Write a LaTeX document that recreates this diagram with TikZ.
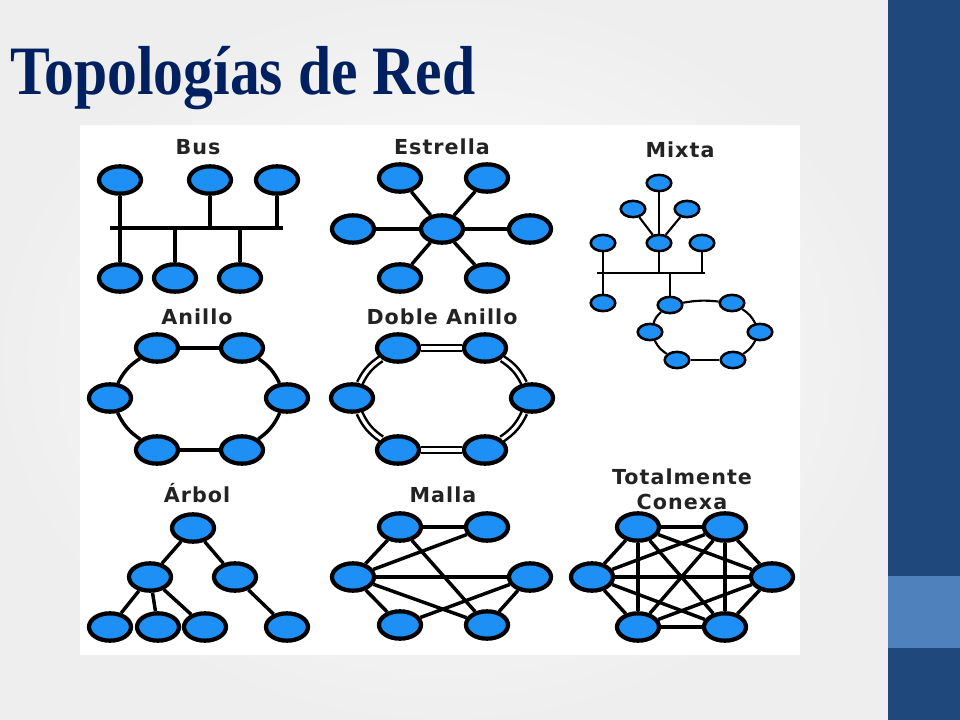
\documentclass[tikz,border=0pt]{standalone}
\usepackage{fontspec}
\usepackage{tikz}
\usetikzlibrary{shapes.geometric}
\newfontfamily\titlefont{Liberation Serif}
\newfontfamily\lblfont[LetterSpace=5]{DejaVu Sans}
\definecolor{nodeblue}{RGB}{30,144,245}
\definecolor{titleblue}{RGB}{0,32,96}
\definecolor{labelgray}{RGB}{35,35,35}
\definecolor{bardark}{RGB}{31,73,125}
\definecolor{barlight}{RGB}{79,129,189}

\begin{document}
\begin{tikzpicture}[x=0.75pt,y=-0.75pt,
        host/.style={ellipse,draw=black,line width=3.2pt,fill=nodeblue,inner sep=0pt,minimum width=31.5pt,minimum height=20.5pt},
        hostsm/.style={host,line width=1.9pt,minimum width=18.4pt,minimum height=12.2pt},
        link/.style={line width=2.6pt},
        linksm/.style={line width=1.6pt},
        twolink/.style={line width=1.9pt,double=white,double distance=2.4pt},
        lbl/.style={font=\lblfont\bfseries\fontsize{15.5}{18}\selectfont,text=labelgray,inner sep=0pt}]
        \useasboundingbox (0,0) rectangle (960,720);
        \shade [inner color=white,outer color=gray!13] (0,0) rectangle (888,720);
        \fill [white] (80,125) rectangle (800,655);
        \fill [bardark] (888,0) rectangle (960,720);
        \fill [barlight] (888,576) rectangle (960,648);

        \node [anchor=base west,inner sep=0pt,text=titleblue,font=\titlefont\bfseries\fontsize{52}{52}\selectfont] (title) at (10,95) {\scalebox{0.86}[1]{Topologías de Red}};

        % bus
        \node [lbl] (lbus) at (198,147) {Bus};
        \node [host] (b1) at (120,180) {};
        \node [host] (b2) at (210,180) {};
        \node [host] (b3) at (277,180) {};
        \node [host] (b4) at (120,278) {};
        \node [host] (b5) at (175,278) {};
        \node [host] (b6) at (240,278) {};
        \coordinate (busl) at (110,228);
        \coordinate (busr) at (283,228);

        \draw [link] (busl) -- (busr);
        \draw [link] (b1) -- (b4);
        \draw [link] (b2) -- (b2 |- busl);
        \draw [link] (b3) -- (b3 |- busl);
        \draw [link] (b5) -- (b5 |- busl);
        \draw [link] (b6) -- (b6 |- busl);

        % estrella
        \node [lbl] (lstar) at (442,147) {Estrella};
        \node [host] (s0) at (442,229) {};
        \node [host] (s1) at (400,178) {};
        \node [host] (s2) at (487,178) {};
        \node [host] (s3) at (353,229) {};
        \node [host] (s4) at (530,229) {};
        \node [host] (s5) at (400,278) {};
        \node [host] (s6) at (487,278) {};

        \foreach \i in {1,...,6}
            \draw [link] (s0) -- (s\i);

        % mixta
        \node [lbl] (lmix) at (680,150) {Mixta};
        \node [hostsm] (mx1) at (659,183) {};
        \node [hostsm] (mx2) at (633,209) {};
        \node [hostsm] (mx3) at (687,209) {};
        \node [hostsm] (mx4) at (603,243) {};
        \node [hostsm] (mx5) at (659,243) {};
        \node [hostsm] (mx6) at (702,243) {};
        \node [hostsm] (mx7) at (603,303) {};
        \node [hostsm] (mr1) at (670,305) {};
        \node [hostsm] (mr2) at (732,303) {};
        \node [hostsm] (mr3) at (760,332) {};
        \node [hostsm] (mr4) at (733,360) {};
        \node [hostsm] (mr5) at (677,360) {};
        \node [hostsm] (mr6) at (650,332) {};
        \coordinate (mbusl) at (597,273);
        \coordinate (mbusr) at (705,273);

        \draw [linksm] (mbusl) -- (mbusr);
        \draw [linksm] (mx1) -- (mx5);
        \draw [linksm] (mx2) -- (mx5);
        \draw [linksm] (mx3) -- (mx5);
        \draw [linksm] (mx4) -- (mx7);
        \draw [linksm] (mx5) -- (mx5 |- mbusl);
        \draw [linksm] (mx6) -- (mx6 |- mbusl);
        \draw [linksm] (mr1 |- mbusl) -- (mr1);
        \draw [linksm] (mr1) to [bend left=8] (mr2);
        \draw [linksm] (mr2) to [bend left=15] (mr3);
        \draw [linksm] (mr3) to [bend left=15] (mr4);
        \draw [linksm] (mr4) -- (mr5);
        \draw [linksm] (mr5) to [bend left=15] (mr6);
        \draw [linksm] (mr6) to [bend left=15] (mr1);

        % anillo
        \node [lbl] (lring) at (197,317) {Anillo};
        \node [host] (a1) at (157,348) {};
        \node [host] (a2) at (242,348) {};
        \node [host] (a3) at (287,398) {};
        \node [host] (a4) at (242,450) {};
        \node [host] (a5) at (157,450) {};
        \node [host] (a6) at (110,398) {};

        \draw [link] (a1) -- (a2);
        \draw [link] (a2) to [bend left=15] (a3);
        \draw [link] (a3) to [bend left=15] (a4);
        \draw [link] (a4) -- (a5);
        \draw [link] (a5) to [bend left=15] (a6);
        \draw [link] (a6) to [bend left=15] (a1);

        % doble anillo
        \node [lbl] (ldring) at (442,317) {Doble Anillo};
        \node [host] (d1) at (398,348) {};
        \node [host] (d2) at (485,348) {};
        \node [host] (d3) at (532,398) {};
        \node [host] (d4) at (485,450) {};
        \node [host] (d5) at (398,450) {};
        \node [host] (d6) at (352,398) {};

        \draw [twolink] (d1) -- (d2);
        \draw [twolink] (d2) to [bend left=15] (d3);
        \draw [twolink] (d3) to [bend left=15] (d4);
        \draw [twolink] (d4) -- (d5);
        \draw [twolink] (d5) to [bend left=15] (d6);
        \draw [twolink] (d6) to [bend left=15] (d1);

        % arbol
        \node [lbl] (ltree) at (197,493) {Árbol};
        \node [host] (tr0) at (193,528) {};
        \node [host] (tr1) at (150,577) {};
        \node [host] (tr2) at (235,577) {};
        \node [host] (tr3) at (110,627) {};
        \node [host] (tr4) at (158,627) {};
        \node [host] (tr5) at (205,627) {};
        \node [host] (tr6) at (287,627) {};

        \draw [link] (tr0) -- (tr1);
        \draw [link] (tr0) -- (tr2);
        \draw [link] (tr1) -- (tr3);
        \draw [link] (tr1) -- (tr4);
        \draw [link] (tr1) -- (tr5);
        \draw [link] (tr2) -- (tr6);

        % malla
        \node [lbl] (lmesh) at (443,495) {Malla};
        \node [host] (ma1) at (400,527) {};
        \node [host] (ma2) at (487,527) {};
        \node [host] (ma3) at (353,577) {};
        \node [host] (ma4) at (530,577) {};
        \node [host] (ma5) at (400,625) {};
        \node [host] (ma6) at (487,625) {};

        \foreach \i/\j in {1/2,1/3,1/6,3/2,3/4,3/5,3/6,5/4,4/6}
            \draw [link] (ma\i) -- (ma\j);

        % totalmente conexa
        \node [lbl,align=center] (lfull) at (682,489) {Totalmente\\[1pt]Conexa};
        \node [host] (k1) at (638,527) {};
        \node [host] (k2) at (725,527) {};
        \node [host] (k3) at (592,577) {};
        \node [host] (k4) at (772,577) {};
        \node [host] (k5) at (638,627) {};
        \node [host] (k6) at (725,627) {};

        \foreach \i in {1,...,5} {
            \pgfmathtruncatemacro{\nxt}{\i+1}
            \foreach \j in {\nxt,...,6}
                \draw [link] (k\i) -- (k\j);
        }
\end{tikzpicture}
\end{document}
